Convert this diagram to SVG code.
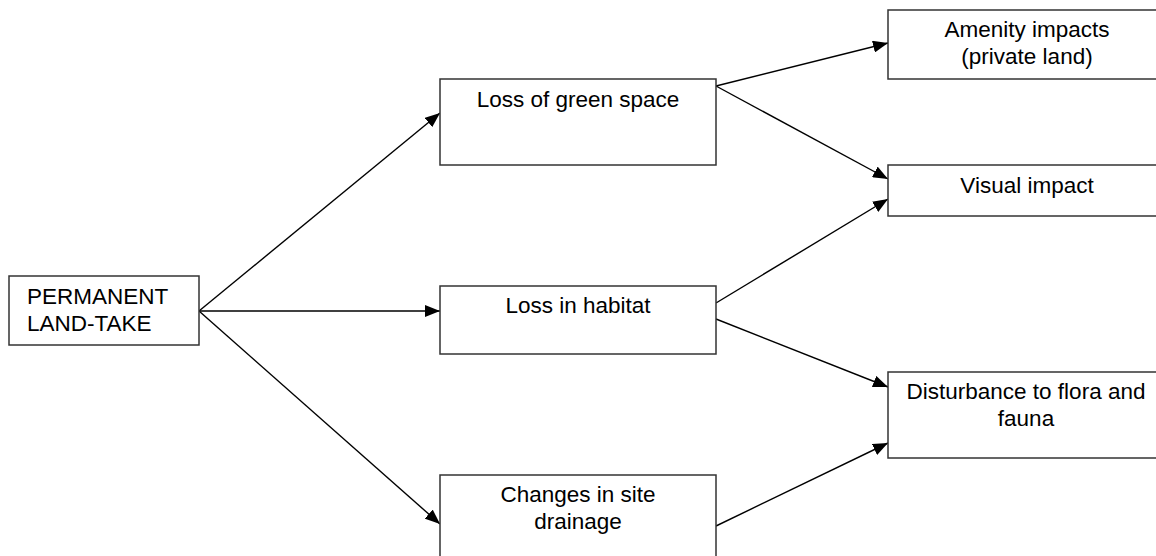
<svg xmlns="http://www.w3.org/2000/svg" width="1156" height="556" viewBox="0 0 1156 556">
<style>
.box{fill:#fff;stroke:#333;stroke-width:1.5}
.t{font-family:"Liberation Sans",Arial,sans-serif;font-size:22.5px;fill:#000}
.c{text-anchor:middle}
.ln{stroke:#000;stroke-width:1.4;fill:none;marker-end:url(#ah)}
</style>
<defs>
<marker id="ah" markerUnits="userSpaceOnUse" markerWidth="16" markerHeight="12" refX="15" refY="6" orient="auto">
<path d="M0,0 L15,6 L0,12 Z" fill="#000"/>
</marker>
</defs>
<rect width="1156" height="556" fill="#fff"/>
<g id="connectors">
<line class="ln" x1="199" y1="311" x2="440" y2="113"/>
<line class="ln" x1="199" y1="311" x2="440" y2="311"/>
<line class="ln" x1="199" y1="311" x2="440" y2="524"/>
<line class="ln" x1="716" y1="86" x2="888" y2="43"/>
<line class="ln" x1="716" y1="86" x2="888" y2="179"/>
<line class="ln" x1="716" y1="303" x2="888" y2="199"/>
<line class="ln" x1="716" y1="319" x2="888" y2="387"/>
<line class="ln" x1="716" y1="526" x2="888" y2="443"/>
</g>
<g id="permanent">
<rect class="box" x="9" y="276" width="190" height="69"/>
<text class="t" x="27" y="304">PERMANENT</text>
<text class="t" x="27" y="331">LAND-TAKE</text>
</g>
<g id="green">
<rect class="box" x="440" y="79" width="276" height="86"/>
<text class="t c" x="578" y="107">Loss of green space</text>
</g>
<g id="habitat">
<rect class="box" x="440" y="286" width="276" height="68"/>
<text class="t c" x="578" y="313">Loss in habitat</text>
</g>
<g id="drainage">
<rect class="box" x="440" y="475" width="276" height="90"/>
<text class="t c" x="578" y="502">Changes in site</text>
<text class="t c" x="578" y="529">drainage</text>
</g>
<g id="amenity">
<rect class="box" x="888" y="10" width="275" height="69"/>
<text class="t c" x="1027" y="37">Amenity impacts</text>
<text class="t c" x="1027" y="64">(private land)</text>
</g>
<g id="visual">
<rect class="box" x="888" y="165" width="275" height="51"/>
<text class="t c" x="1027" y="193">Visual impact</text>
</g>
<g id="disturbance">
<rect class="box" x="888" y="372" width="275" height="86"/>
<text class="t c" x="1026" y="399">Disturbance to flora and</text>
<text class="t c" x="1026" y="426">fauna</text>
</g>
</svg>
